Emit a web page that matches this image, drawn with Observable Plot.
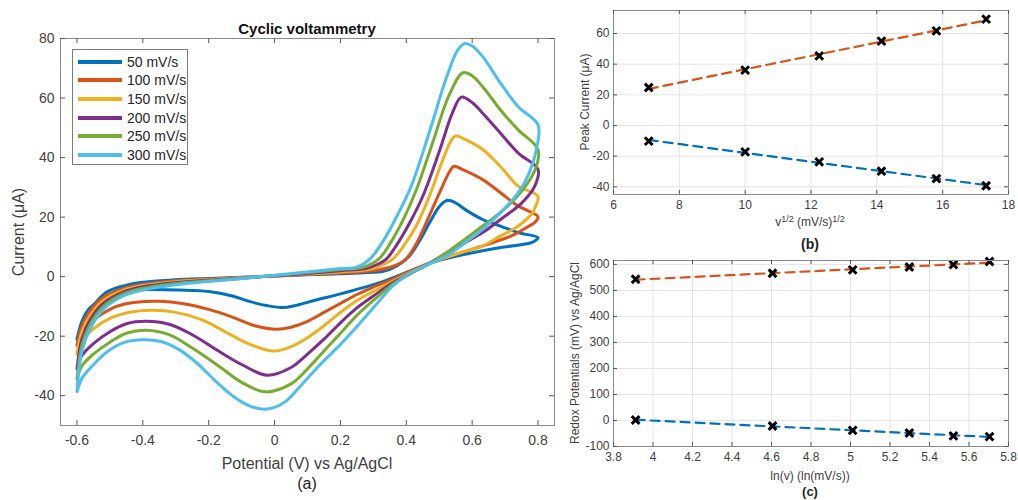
<!DOCTYPE html>
<html><head><meta charset="utf-8">
<script src="https://cdn.jsdelivr.net/npm/d3@7"></script>
<script src="https://cdn.jsdelivr.net/npm/@observablehq/plot@0.6"></script>
<style>
body{margin:0;background:#fff;}
#wrap{position:relative;width:1018px;height:500px;font-family:"Liberation Sans",Arial,Helvetica,sans-serif;color:#262626;overflow:hidden;background:#fff}
#wrap svg{position:absolute}
.lbl{position:absolute;transform:translate(-50%,-50%);white-space:nowrap;line-height:1}
.rot{transform:translate(-50%,-50%) rotate(-90deg)}
sup{font-size:0.75em;vertical-align:0.45em;line-height:0}
</style></head><body><div id="wrap"></div>
<script>
// ---------- Panel (a): cyclic voltammograms, [potential V, current µA] ----------
const rateLabels = ["50 mV/s","100 mV/s","150 mV/s","200 mV/s","250 mV/s","300 mV/s"];
const rateColors = ["#0072BD","#D95319","#EDB120","#7E2F8E","#77AC30","#4DBEEE"];
const cv50 = [[-0.6,-21],[-0.585,-15],[-0.565,-11],[-0.55,-9.5],[-0.51,-5.2],[-0.455,-3],[-0.4,-1.9],[-0.3,-1],[-0.2,-0.6],[-0.1,-0.2],[0,0.2],[0.1,0.6],[0.2,1.0],[0.27,1.3],[0.33,1.8],[0.37,3.5],[0.41,7],[0.44,12],[0.47,18],[0.5,23.5],[0.523,25.6],[0.55,24.8],[0.578,22.6],[0.632,19.2],[0.686,17],[0.74,14.8],[0.8,13.1],
  [0.79,12],[0.773,11.2],[0.686,9.8],[0.578,7.5],[0.48,4.8],[0.4,1.4],[0.317,-2.1],[0.2,-5.8],[0.12,-8],[0.06,-9.8],[0.027,-10.4],[-0.02,-9.8],[-0.074,-8.4],[-0.128,-6.5],[-0.2,-5],[-0.29,-4.5],[-0.37,-4.3],[-0.43,-4.6],[-0.48,-6],[-0.52,-8.5],[-0.56,-12.5],[-0.585,-16],[-0.6,-21]];
const cv100 = [[-0.6,-23],[-0.585,-16.5],[-0.56,-11.5],[-0.52,-7],[-0.46,-4],[-0.4,-2.6],[-0.3,-1.4],[-0.2,-0.8],[-0.1,-0.3],[0,0.2],[0.1,0.7],[0.2,1.2],[0.3,2.0],[0.36,3.5],[0.4,6],[0.43,11],[0.46,18],[0.5,28],[0.53,35],[0.545,37.1],[0.57,36],[0.632,32.6],[0.686,28.2],[0.74,23.7],[0.8,20.1],
  [0.79,18.2],[0.773,17],[0.719,13.7],[0.632,10.3],[0.578,8.5],[0.523,6.5],[0.469,4.5],[0.415,2],[0.36,-0.8],[0.3,-3.5],[0.25,-6],[0.2,-9],[0.15,-12],[0.1,-15],[0.05,-17],[0.007,-17.7],[-0.06,-16.5],[-0.13,-13.5],[-0.2,-11],[-0.28,-9],[-0.35,-8.3],[-0.42,-8.6],[-0.48,-10],[-0.53,-13],[-0.57,-16.5],[-0.6,-23]];
const cv150 = [[-0.6,-26],[-0.585,-18.5],[-0.56,-13],[-0.52,-8],[-0.46,-4.6],[-0.4,-3],[-0.3,-1.7],[-0.2,-1],[-0.1,-0.4],[0,0.3],[0.1,0.9],[0.2,1.6],[0.29,2.5],[0.33,4],[0.36,6],[0.39,10],[0.43,17],[0.47,27],[0.51,39],[0.535,45.5],[0.55,47.3],[0.58,46],[0.632,42.7],[0.686,37],[0.74,30.4],[0.8,27],
  [0.79,23],[0.784,21.5],[0.74,17],[0.686,13.7],[0.632,10.3],[0.578,8.5],[0.523,6.5],[0.469,4.3],[0.415,1.5],[0.36,-1.5],[0.3,-5],[0.25,-8],[0.2,-12],[0.15,-16.5],[0.1,-20.5],[0.05,-23.5],[-0.003,-25],[-0.08,-22.5],[-0.15,-18.5],[-0.22,-14.5],[-0.3,-12],[-0.37,-11.3],[-0.43,-11.8],[-0.5,-14],[-0.55,-17.5],[-0.585,-21.5],[-0.6,-26]];
const cv200 = [[-0.6,-31],[-0.585,-21],[-0.56,-14.5],[-0.52,-9],[-0.46,-5.2],[-0.4,-3.4],[-0.3,-2],[-0.2,-1.2],[-0.1,-0.5],[0,0.3],[0.1,1.1],[0.2,2],[0.28,2.8],[0.31,4],[0.34,6],[0.37,10.5],[0.41,18],[0.45,27],[0.5,42],[0.54,55],[0.567,60.3],[0.6,58.5],[0.632,54.9],[0.686,48.2],[0.74,41.5],[0.8,36],
  [0.79,30.4],[0.751,24.8],[0.686,19.2],[0.632,14.8],[0.578,11.4],[0.523,8],[0.469,4.4],[0.415,1.2],[0.36,-2],[0.3,-6.5],[0.25,-10.5],[0.2,-15.5],[0.15,-21],[0.1,-26],[0.05,-30.5],[-0.023,-33.1],[-0.1,-29.5],[-0.17,-25],[-0.25,-19.5],[-0.32,-16],[-0.39,-15],[-0.45,-15.8],[-0.5,-18.5],[-0.55,-22.5],[-0.585,-26.5],[-0.6,-31]];
const cv250 = [[-0.6,-34.5],[-0.585,-23],[-0.56,-16],[-0.52,-10],[-0.46,-5.8],[-0.4,-3.9],[-0.3,-2.3],[-0.2,-1.4],[-0.1,-0.6],[0,0.4],[0.1,1.4],[0.2,2.4],[0.27,3.2],[0.317,6],[0.35,11],[0.39,19],[0.43,29],[0.48,45],[0.53,61],[0.572,68.5],[0.6,67.5],[0.632,63.8],[0.686,56],[0.74,49.3],[0.8,42.7],
  [0.795,37],[0.762,30.4],[0.708,23.7],[0.632,17],[0.578,12.6],[0.523,8.1],[0.469,4.3],[0.415,1.2],[0.36,-2.5],[0.3,-8],[0.25,-13],[0.2,-19],[0.15,-25],[0.1,-31],[0.05,-36],[-0.028,-38.7],[-0.1,-35.5],[-0.17,-30],[-0.25,-24],[-0.32,-19.5],[-0.39,-18],[-0.45,-19],[-0.5,-22],[-0.55,-26],[-0.585,-30],[-0.6,-34.5]];
const cv300 = [[-0.6,-38.6],[-0.585,-25],[-0.56,-17.5],[-0.52,-11],[-0.46,-6.5],[-0.4,-4.5],[-0.3,-2.7],[-0.2,-1.6],[-0.1,-0.6],[0,0.5],[0.1,1.6],[0.2,2.7],[0.25,3.2],[0.29,6],[0.33,12],[0.37,20],[0.415,30.4],[0.469,48.2],[0.523,67.2],[0.556,76.1],[0.578,78.3],[0.6,77.5],[0.632,73.9],[0.686,65],[0.74,57.1],[0.8,51],
  [0.795,42.7],[0.773,34.8],[0.74,28.2],[0.686,21.5],[0.632,15.9],[0.578,11.4],[0.523,7],[0.469,4.2],[0.415,1.4],[0.36,-3],[0.306,-9.7],[0.252,-16.5],[0.198,-23],[0.143,-29],[0.089,-35.5],[0.035,-41.8],[0,-43.9],[-0.036,-44.5],[-0.08,-43.2],[-0.128,-40],[-0.18,-35],[-0.236,-29],[-0.29,-24.5],[-0.345,-21.8],[-0.4,-21.2],[-0.454,-22],[-0.508,-25.2],[-0.551,-29.7],[-0.584,-34],[-0.6,-38.6]];
const cvXTicks = [-0.6,-0.4,-0.2,0,0.2,0.4,0.6,0.8];
const cvYTicks = [-40,-20,0,20,40,60,80];

// ---------- Panel (b): peak current vs sqrt(scan rate) ----------
const sqrtRate = [7.07, 10.0, 12.25, 14.14, 15.81, 17.32];
const anodicPeak = [24.8, 36.1, 45.4, 55, 61.7, 69.4];
const cathodicPeak = [-10.2, -17.2, -23.7, -29.8, -34.6, -39.3];
const bXTicks = [6,8,10,12,14,16,18];
const bYTicks = [-40,-20,0,20,40,60];

// ---------- Panel (c): redox potentials vs ln(scan rate) ----------
const lnRate = [3.912, 4.605, 5.011, 5.298, 5.521, 5.704];
const anodicPot = [543, 566, 579, 590, 599, 611];
const cathodicPot = [2, -21, -38, -48, -59, -62];
const cXTicks = [3.8,4,4.2,4.4,4.6,4.8,5,5.2,5.4,5.6,5.8];
const cYTicks = [-100,0,100,200,300,400,500,600];

const FONT = '"Liberation Sans", Arial, Helvetica, sans-serif';
const FRAME = "#8a8a8a";
const fmt = d => String(d);

function boxTicks(xt, yt, fw, fh, len) {
  return [
    Plot.tickX(xt, {x: d => d, insetTop: fh - len, stroke: "#555"}),
    Plot.tickX(xt, {x: d => d, insetBottom: fh - len, stroke: "#555"}),
    Plot.tickY(yt, {y: d => d, insetRight: fw - len, stroke: "#555"}),
    Plot.tickY(yt, {y: d => d, insetLeft: fw - len, stroke: "#555"})
  ];
}

const wrap = document.getElementById("wrap");

// Panel (a)
const cvSeries = [cv50, cv100, cv150, cv200, cv250, cv300];
const cvRows = [];
cvSeries.forEach((pts, s) => pts.forEach(([v, i]) => cvRows.push({rate: rateLabels[s], v, i})));

const plotA = Plot.plot({
  width: 560, height: 500,
  marginLeft: 60, marginRight: 6, marginTop: 38, marginBottom: 75,
  style: {fontFamily: FONT, fontSize: "14px", color: "#404040", background: "transparent"},
  x: {domain: [-0.65, 0.85], label: null},
  y: {domain: [-50, 80], label: null},
  color: {domain: rateLabels, range: rateColors},
  marks: [
    Plot.line(cvRows, {x: "v", y: "i", z: "rate", stroke: "rate", strokeWidth: 3, curve: "catmull-rom"}),
    Plot.frame({stroke: FRAME}),
    ...boxTicks(cvXTicks, cvYTicks, 494, 387, 5),
    Plot.axisX({ticks: cvXTicks, tickSize: 0, tickPadding: 10, tickFormat: fmt, label: null}),
    Plot.axisY({ticks: cvYTicks, tickSize: 0, tickPadding: 6, tickFormat: fmt, label: null})
  ]
});
plotA.style.left = "0px"; plotA.style.top = "0px";
wrap.appendChild(plotA);

// Panel (b)
const bRows = sqrtRate.flatMap((x, k) => [
  {x, y: anodicPeak[k], kind: "anodic"},
  {x, y: cathodicPeak[k], kind: "cathodic"}
]);
const plotB = Plot.plot({
  width: 458, height: 250,
  marginLeft: 53, marginRight: 10, marginTop: 10, marginBottom: 56,
  style: {fontFamily: FONT, fontSize: "12px", color: "#404040", background: "transparent"},
  x: {domain: [6, 18], label: null},
  y: {domain: [-45, 75], label: null},
  color: {domain: ["anodic", "cathodic"], range: ["#D95319", "#0072BD"]},
  marks: [
    Plot.ruleX(bXTicks, {x: d => d, stroke: "#e4e4e4"}),
    Plot.ruleY(bYTicks, {y: d => d, stroke: "#e4e4e4"}),
    Plot.linearRegressionY(bRows, {x: "x", y: "y", z: "kind", stroke: "kind", ci: 0, strokeWidth: 2.2, strokeDasharray: "9,6"}),
    Plot.dot(bRows, {x: "x", y: "y", symbol: "times", r: 3.6, stroke: "black", strokeWidth: 3}),
    Plot.frame({stroke: FRAME}),
    ...boxTicks(bXTicks, bYTicks, 395, 184, 4),
    Plot.axisX({ticks: bXTicks, tickSize: 0, tickPadding: 6, tickFormat: fmt, label: null}),
    Plot.axisY({ticks: bYTicks, tickSize: 0, tickPadding: 4, tickFormat: fmt, label: null})
  ]
});
plotB.style.left = "560px"; plotB.style.top = "0px";
wrap.appendChild(plotB);

// Panel (c)
const cRows = lnRate.flatMap((x, k) => [
  {x, y: anodicPot[k], kind: "anodic"},
  {x, y: cathodicPot[k], kind: "cathodic"}
]);
const plotC = Plot.plot({
  width: 458, height: 250,
  marginLeft: 53, marginRight: 10, marginTop: 10, marginBottom: 54,
  style: {fontFamily: FONT, fontSize: "12px", color: "#404040", background: "transparent"},
  x: {domain: [3.8, 5.8], label: null},
  y: {domain: [-100, 615], label: null},
  color: {domain: ["anodic", "cathodic"], range: ["#D95319", "#0072BD"]},
  marks: [
    Plot.ruleX(cXTicks, {x: d => d, stroke: "#e4e4e4"}),
    Plot.ruleY(cYTicks, {y: d => d, stroke: "#e4e4e4"}),
    Plot.linearRegressionY(cRows, {x: "x", y: "y", z: "kind", stroke: "kind", ci: 0, strokeWidth: 2.2, strokeDasharray: "9,6"}),
    Plot.dot(cRows, {x: "x", y: "y", symbol: "times", r: 3.6, stroke: "black", strokeWidth: 3}),
    Plot.frame({stroke: FRAME}),
    ...boxTicks(cXTicks, cYTicks, 395, 186, 4),
    Plot.axisX({ticks: cXTicks, tickSize: 0, tickPadding: 6, tickFormat: fmt, label: null}),
    Plot.axisY({ticks: cYTicks, tickSize: 0, tickPadding: 4, tickFormat: fmt, label: null})
  ]
});
plotC.style.left = "560px"; plotC.style.top = "250px";
wrap.appendChild(plotC);

// Texts (titles, axis labels, panel letters)
function addLabel(html, x, y, size, extra) {
  const d = document.createElement("div");
  d.className = "lbl" + (extra && extra.rot ? " rot" : "");
  d.innerHTML = html;
  d.style.left = x + "px"; d.style.top = y + "px";
  d.style.fontSize = size + "px";
  if (extra && extra.bold) d.style.fontWeight = "bold";
  d.style.color = (extra && extra.color) || "#404040";
  wrap.appendChild(d);
}
addLabel("Cyclic voltammetry", 307, 28, 15, {bold: true, color: "#111"});
addLabel("Potential (V) vs Ag/AgCl", 307, 464, 16);
addLabel("(a)", 307, 484, 16, {color: "#222"});
addLabel("Current (μA)", 19, 232, 16, {rot: true});
addLabel("v<sup>1/2</sup> (mV/s)<sup>1/2</sup>", 810, 222, 12);
addLabel("(b)", 810, 244, 14, {bold: true, color: "#222"});
addLabel("Peak Current (μA)", 585, 102, 12, {rot: true});
addLabel("ln(v) (ln(mV/s))", 810, 476, 12);
addLabel("(c)", 810, 491, 13, {bold: true, color: "#222"});
addLabel("Redox Potentials (mV) vs Ag/AgCl", 575, 353, 12, {rot: true});

// Legend for panel (a)
const leg = document.createElement("div");
leg.style.cssText = "position:absolute;left:72px;top:49px;width:116px;height:116px;border:1px solid #7a7a7a;background:#fff;box-sizing:border-box";
rateLabels.forEach((lab, k) => {
  const cy = 11.5 + k * 18.7;
  const ln = document.createElement("div");
  ln.style.cssText = `position:absolute;left:5px;top:${cy - 2}px;width:44px;height:4px;background:${rateColors[k]}`;
  const tx = document.createElement("div");
  tx.style.cssText = `position:absolute;left:54px;top:${cy}px;transform:translateY(-50%);font-size:14px;line-height:1;color:#262626;white-space:nowrap`;
  tx.textContent = lab;
  leg.appendChild(ln); leg.appendChild(tx);
});
wrap.appendChild(leg);
</script></body></html>
